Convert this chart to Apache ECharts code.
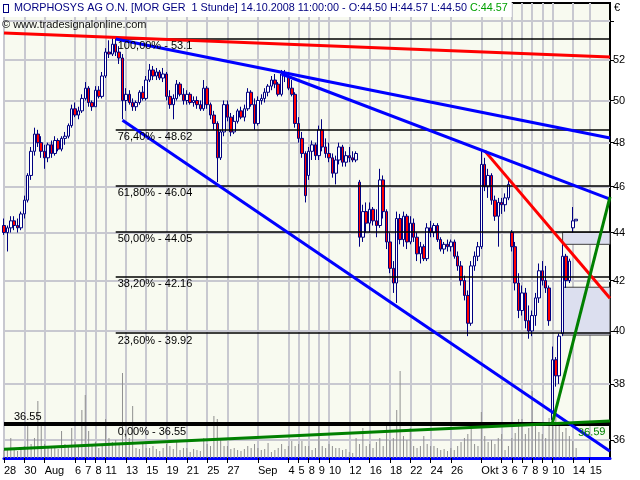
<!DOCTYPE html>
<html><head><meta charset="utf-8">
<script src="https://cdn.jsdelivr.net/npm/echarts@6/dist/echarts.min.js"></script>
<style>html,body{margin:0;padding:0;background:#fff}#c{width:640px;height:480px}</style>
</head><body><div id="c"></div>
<script>
// ---------- DATA ----------
const tradingDates = ['28.07','29.07','30.07','31.07','01.08','04.08','05.08','06.08','07.08','08.08','11.08','12.08','13.08','14.08','15.08','18.08','19.08','20.08','21.08','22.08','25.08','26.08','27.08','28.08','29.08','01.09','02.09','03.09','04.09','05.09','08.09','09.09','10.09','11.09','12.09','15.09','16.09','17.09','18.09','19.09','22.09','23.09','24.09','25.09','26.09','29.09','30.09','01.10','02.10','03.10','06.10','07.10','08.10','09.10','10.10','13.10','14.10','15.10','16.10','17.10'];
const sessions = ['09:00','12:00','15:00'];
// axis labels: [slot, text]
const axisLabels = [[0,'28'],[6,'30'],[12,'Aug'],[21,'6'],[24,'7'],[27,'8'],[30,'11'],[36,'13'],[42,'15'],[48,'19'],[54,'21'],[60,'25'],[66,'27'],[75,'Sep'],[84,'4'],[87,'5'],[90,'8'],[93,'9'],[96,'10'],[102,'12'],[108,'16'],[114,'18'],[120,'22'],[126,'24'],[132,'26'],[141,'Okt'],[147,'3'],[150,'6'],[153,'7'],[156,'8'],[159,'9'],[162,'10'],[168,'14'],[173,'15']];
// [open, high, low, close]
const ohlc = [
[44.3,44.6,43.9,44.0],[44.0,44.3,43.2,44.2],[44.2,44.7,44.0,44.5],
[44.5,44.7,44.1,44.3],[44.3,44.6,44.0,44.2],[44.2,44.9,44.1,44.8],
[44.8,45.6,44.6,45.4],[45.4,46.6,45.3,46.5],[46.5,47.8,46.3,47.6],
[47.6,48.7,47.4,48.4],[48.4,48.6,47.8,48.0],[48.0,48.3,47.3,47.6],
[47.6,47.9,46.8,47.3],[47.3,48.0,47.1,47.9],[47.9,48.1,47.3,47.5],
[47.5,48.3,47.4,48.1],[48.1,48.2,47.6,47.7],[47.7,48.3,47.6,48.2],
[48.2,48.5,47.9,48.3],[48.3,48.9,48.2,48.8],[48.8,49.8,48.7,49.6],
[49.6,49.9,49.2,49.3],[49.3,49.7,49.1,49.5],[49.5,50.3,49.4,50.1],
[50.1,50.9,50.0,50.6],[50.6,50.7,49.7,49.9],[49.9,50.0,49.5,49.7],
[49.7,50.7,49.7,50.5],[50.5,50.7,50.1,50.2],[50.2,51.4,50.1,51.2],
[51.2,52.6,51.1,52.4],[52.4,53.0,52.1,52.3],[52.3,53.1,52.2,52.8],
[52.8,53.1,52.2,52.4],[52.4,52.7,51.8,52.1],[52.1,52.3,49.1,50.0],
[50.0,50.6,49.5,50.3],[50.3,50.5,49.8,49.9],[49.9,50.1,49.5,49.7],
[49.7,50.0,49.5,49.9],[49.9,50.5,49.8,50.4],[50.4,50.7,50.0,50.1],
[50.1,51.2,50.0,51.0],[51.0,51.8,50.9,51.5],[51.5,51.7,51.0,51.2],
[51.2,51.6,51.0,51.4],[51.4,51.5,51.0,51.1],[51.1,51.6,50.9,51.3],
[51.3,51.4,50.0,50.2],[50.2,50.5,49.6,49.8],[49.8,50.3,49.1,50.1],
[50.1,51.0,50.0,50.8],[50.8,50.9,50.2,50.3],[50.3,50.6,49.8,50.0],
[50.0,50.5,49.8,50.3],[50.3,50.4,49.8,49.9],[49.9,50.2,49.7,50.0],
[50.0,50.2,49.6,49.8],[49.8,50.0,49.5,49.6],[49.6,51.0,49.5,50.6],
[50.6,50.7,49.6,49.8],[49.8,49.9,49.1,49.3],[49.3,49.5,48.6,48.9],
[48.9,49.0,46.2,47.3],[47.3,48.6,47.2,48.5],[48.5,50.0,48.3,49.8],
[49.8,50.0,49.0,49.2],[49.2,49.4,48.3,48.5],[48.5,49.3,48.4,49.0],
[49.0,49.6,48.9,49.5],[49.5,49.7,49.1,49.2],[49.2,49.8,49.0,49.6],
[49.6,50.6,49.5,50.4],[50.4,50.5,49.7,49.8],[49.8,50.1,48.6,48.9],
[48.9,50.2,48.8,50.0],[50.0,50.3,49.8,50.1],[50.1,50.6,49.9,50.4],
[50.4,50.8,50.2,50.7],[50.7,51.2,50.5,51.0],[51.0,51.3,50.6,50.8],
[50.8,50.9,50.2,50.3],[50.3,51.5,50.2,51.3],[51.3,51.5,50.9,51.2],
[51.2,51.4,50.5,50.6],[50.6,51.0,50.2,50.3],[50.3,50.4,48.7,48.9],
[48.9,49.2,48.0,48.2],[48.2,48.5,47.3,47.5],[47.5,47.6,45.3,45.6],
[46.5,47.8,46.3,47.6],[47.6,48.1,47.2,47.9],[47.9,48.0,47.2,47.4],
[47.4,48.8,47.2,48.6],[48.6,49.1,47.6,47.8],[47.8,48.2,47.3,47.5],
[47.5,48.0,47.1,47.3],[47.3,47.5,46.4,46.6],[46.6,47.4,46.1,47.2],
[47.2,48.0,47.0,47.8],[47.8,47.9,46.9,47.1],[47.1,47.6,46.9,47.4],
[47.4,47.8,47.1,47.3],[47.3,47.6,47.1,47.2],[47.2,47.6,47.1,47.5],
[46.2,46.3,43.4,43.8],[43.8,45.2,43.6,44.9],[44.9,45.3,44.0,44.4],
[44.4,45.3,44.0,45.0],[45.0,45.1,44.3,44.5],[44.5,45.0,43.8,44.3],
[44.3,46.8,44.2,46.3],[46.3,46.5,44.6,44.9],[44.9,45.0,43.3,43.6],
[43.6,44.0,42.3,42.5],[42.5,42.8,41.5,41.9],[41.9,44.9,41.1,44.6],
[44.6,44.8,43.5,43.7],[43.7,44.9,43.4,44.7],[44.7,44.8,43.3,43.6],
[43.6,44.7,43.5,44.4],[44.4,44.6,43.6,43.8],[43.8,44.0,42.8,43.1],
[43.1,43.6,42.7,43.4],[43.4,43.5,42.8,42.9],[42.9,44.4,42.8,44.2],
[44.2,44.5,43.8,44.0],[44.0,44.4,43.8,44.3],[44.3,44.4,43.6,43.7],
[43.7,43.8,43.2,43.3],[43.3,43.6,43.1,43.5],[43.5,43.7,43.2,43.4],
[43.4,43.7,43.2,43.6],[43.6,43.7,42.9,43.0],[43.0,43.2,42.4,42.6],
[42.6,42.8,41.8,42.0],[42.0,42.2,41.2,41.4],[41.4,41.6,39.8,40.3],
[40.3,42.8,40.2,42.6],[42.6,43.2,42.4,43.0],[43.0,43.6,42.8,43.4],
[43.4,47.7,43.3,47.0],[47.0,47.3,45.8,46.0],[46.0,46.8,45.5,46.5],
[46.5,46.6,45.2,45.4],[45.4,45.6,44.5,44.7],[44.7,45.5,43.4,45.3],
[45.3,45.5,44.8,45.2],[45.2,45.7,44.9,45.5],[45.5,46.3,45.4,46.1],
[44.0,44.1,43.2,43.4],[43.4,43.6,41.6,41.9],[41.9,42.3,40.5,40.8],
[40.8,41.8,40.6,41.5],[41.5,41.7,40.1,40.4],[40.4,41.0,39.7,40.0],
[40.0,40.8,39.8,40.6],[40.6,41.5,40.2,41.3],[41.3,42.7,41.1,42.4],
[42.4,42.8,41.8,42.0],[42.0,42.6,41.5,41.7],[41.7,41.8,40.2,40.4],
[36.7,39.4,36.55,38.9],[38.9,39.0,37.9,38.3],[38.3,39.9,38.0,39.8],
[39.9,43.5,39.8,43.0],[43.0,43.1,41.7,42.0],[42.0,42.9,41.9,42.8],
[44.2,45.1,44.0,44.50],[44.50,44.57,44.50,44.57]
];
const volumes = [
8,10,20, 9,7,11, 12,32,14, 20,57,32, 14,10,12, 12,9,27, 14,12,30, 16,12,48, 63,27,14, 16,10,14,
39,20,16, 18,14,85, 28,20,52, 10,9,14, 10,10,12, 9,7,10, 14,12,9, 17,8,10, 10,6,9, 8,7,20,
14,12,42, 39,18,12, 12,9,10, 8,7,9, 12,10,14, 10,8,9, 15,6,8, 10,14,9, 12,17,12, 14,17,12,
12,8,10, 35,12,10, 14,12,10, 10,8,9, 6,5,20, 14,30,12, 14,10,16, 20,12,32, 18,20,48, 87,22,18,
30,12,10, 12,22,14, 12,12,10, 8,9,7, 10,8,12, 16,20,24, 30,14,12, 46,22,16, 18,14,20, 24,8,12,
20,25,39, 39,24,30, 67,32,26, 24,20,40, 52,45,34, 26,30,22, 17,10
];
const priceLabels = [36,38,40,42,44,46,48,50,52];
const priceGrid = [36,38,40,42,44,46,48,50,52,54];
const fibLevels = [['100,00%',53.1],['76,40%',48.62],['61,80%',46.04],['50,00%',44.05],['38,20%',42.16],['23,60%',39.92]];
const fibBase = ['0,00%',36.55];
const fibStartSlot = 33;
// trend lines: [slotFrom, priceFrom, slotTo, priceTo]
const redTrend = [[0,53.38,179,52.15],[142,47.62,179,41.29]];
const blueTrend = [[33,53.07,179,48.22],[82,51.30,179,45.45],[35,49.05,179,35.60]];
const greenTrend = [[162,36.59,179,45.55],[0,35.67,179,36.66]];
const greenLabel = '36.59';
// zones: [slotFrom, priceTop, priceBottom]
const zones = [[165,44.01,43.5],[165,41.73,39.84]];

// ---------- BUILD ----------
const categories = [];
tradingDates.forEach(d => sessions.forEach(s => categories.push(d + '.2008 ' + s)));
const lastSlot = categories.length - 1;
const FONT = '"Liberation Sans", Arial, sans-serif';
const labelMap = {};
axisLabels.forEach(a => { labelMap[a[0]] = a[1]; });
const showSlot = (i) => labelMap[i] !== undefined;

const chart = echarts.init(document.getElementById('c'), null, {renderer: 'canvas'});

const fibData = fibLevels.map(f => [
  {coord: [fibStartSlot, f[1]], label: {formatter: f[0] + ' - ' + f[1]}},
  {coord: [lastSlot, f[1]]}
]);
fibData.push({yAxis: fibBase[1], lineStyle: {width: 4}, label: {position: 'insideStartTop', formatter: String(fibBase[1]), padding: [0, 0, 0, 8]}});
fibData.push([
  {coord: [fibStartSlot, fibBase[1]], label: {formatter: fibBase[0] + ' - ' + fibBase[1]}},
  {coord: [lastSlot, fibBase[1]]}
]);

const mkTrend = (arr, color) => arr.map(t => [
  {coord: [t[0], t[1]], lineStyle: {color: color}},
  {coord: [t[2], t[3]]}
]);
const trendData = [].concat(mkTrend(redTrend, '#FF0000'), mkTrend(blueTrend, '#0000FF'), mkTrend(greenTrend, '#008000'));
trendData[trendData.length - 1][0].label = {show: true, formatter: greenLabel, position: 'insideEndBottom', color: '#008000', fontSize: 11, fontFamily: FONT};

const option = {
  animation: false,
  backgroundColor: '#FFFFFF',
  textStyle: {fontFamily: FONT},
  title: [
    {left: 0, top: 0, padding: [3, 4, 3, 4], backgroundColor: '#FFFFFF',
     text: '{ic| }{t|  MORPHOSYS AG O.N. [MOR GER  1 Stunde] 14.10.2008 11:00:00 - O:44.50 H:44.57 L:44.50 }{g|C:44.57}',
     textStyle: {fontSize: 10.8, fontWeight: 'normal', rich: {
       ic: {width: 4, height: 7, borderColor: '#000080', borderWidth: 1, backgroundColor: '#FFFFFF'},
       t: {color: '#000080', fontSize: 10.8, fontFamily: FONT},
       g: {color: '#00A000', fontSize: 10.8, fontFamily: FONT}
     }}},
    {left: 2, top: 19, padding: 0, text: '© www.tradesignalonline.com',
     textStyle: {fontSize: 11, fontWeight: 'normal', color: '#101010', fontFamily: FONT}},
    {left: 614, top: 2, padding: 0, text: '€',
     textStyle: {fontSize: 11, fontWeight: 'normal', color: '#000000', fontFamily: FONT}}
  ],
  grid: {left: 4, right: 30, top: 3, bottom: 22, show: true, backgroundColor: '#F8FAF0', borderColor: '#000000', borderWidth: 2},
  xAxis: {
    type: 'category', data: categories, boundaryGap: false,
    axisLine: {lineStyle: {color: '#0000FF', width: 3}},
    axisTick: {interval: showSlot, length: 5, lineStyle: {color: '#000000'}},
    axisLabel: {interval: showSlot, formatter: (v, i) => labelMap[i] || '', align: 'left', margin: 7, fontSize: 11, color: '#000000', fontFamily: FONT},
    splitLine: {show: true, interval: showSlot, lineStyle: {color: '#C8C8D0', width: 2}}
  },
  yAxis: [
    {type: 'log', position: 'right', min: 35.37, max: 54.95,
     axisLine: {show: true, lineStyle: {color: '#000000', width: 1}},
     axisTick: {show: true, customValues: priceGrid, length: 4, lineStyle: {color: '#000000'}},
     axisLabel: {customValues: priceLabels, margin: 3, fontSize: 11, color: '#000000', fontFamily: FONT, formatter: v => String(Math.round(v))},
     splitLine: {show: true, lineStyle: {color: '#C8C8D0', width: 2}}},
    {type: 'value', min: 0, max: 455, show: false}
  ],
  series: [
    {name: 'Volumen', type: 'bar', xAxisIndex: 0, yAxisIndex: 1, data: volumes, barWidth: 1,
     itemStyle: {color: '#909090'}, silent: true, z: 1},
    {name: 'zones', type: 'line', data: [], z: 2,
     markArea: {silent: true, itemStyle: {color: '#DCDFEF', borderColor: '#404040', borderWidth: 1},
       data: zones.map(z => [{coord: [z[0], z[1]]}, {coord: [lastSlot, z[2]]}])}},
    {name: 'fib', type: 'line', data: [], z: 3,
     markLine: {symbol: 'none', silent: true, animation: false,
       lineStyle: {color: '#000000', width: 1.5, type: 'solid'},
       label: {show: true, position: 'insideStartBottom', color: '#000000', fontSize: 11, fontFamily: FONT, distance: 2},
       data: fibData}},
    {name: 'MORPHOSYS', type: 'candlestick', data: ohlc.map(b => [b[0], b[3], b[2], b[1]]), barWidth: 3, z: 4,
     itemStyle: {color: '#FFFFFF', color0: '#FF0000', borderColor: '#000080', borderColor0: '#000080', borderWidth: 1}},
    {name: 'trend', type: 'line', data: [], z: 5,
     markLine: {symbol: 'none', silent: true, animation: false,
       lineStyle: {width: 3, type: 'solid'}, label: {show: false},
       data: trendData}}
  ]
};
chart.setOption(option);
</script></body></html>
